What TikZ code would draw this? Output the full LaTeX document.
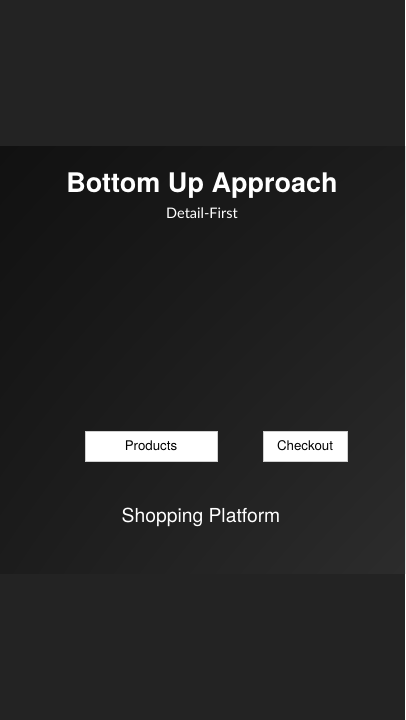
\documentclass[tikz,border=0pt]{standalone}
\usepackage{fontspec}
\setmainfont{TeX Gyre Heros}
\newfontfamily\latofont{Lato}
\usepackage{xcolor}
\usepackage{tikz}
\usetikzlibrary{positioning, shadings}
\definecolor{bandgray}{HTML}{232323}
\definecolor{paneldark}{HTML}{111111}
\definecolor{panellight}{HTML}{2C2C2C}
\definecolor{panelmid}{HTML}{1C1C1C}
\definecolor{boxline}{HTML}{D0D0D0}
\tikzset{
	x=1pt,
	y=-1pt,
	headline/.style={text=white, font=\bfseries\fontsize{27}{30}\selectfont, inner sep=0pt},
	tagline/.style={text=white, font=\latofont\fontsize{14.5}{17}\selectfont, inner sep=0pt},
	feature/.style={draw=boxline, fill=white, text=black, line width=0.6pt,
		font=\fontsize{13.3}{15}\selectfont, minimum height=30pt, inner sep=0pt},
	base/.style={text=white, font=\fontsize{19.3}{22}\selectfont, inner sep=0pt}
}

\begin{document}
\begin{tikzpicture}
	\useasboundingbox (0,0) rectangle (405,720);
	\fill[bandgray] (0,0) rectangle (405,720);
	\shade[upper left=paneldark, lower right=panellight, upper right=panelmid, lower left=panelmid]
		(0,146) rectangle (405,573);
	\node[headline] (title) at (202,186) {Bottom Up Approach};
	\node[tagline] (subtitle) at (202,213) {Detail-First};
	\node[feature, minimum width=132pt] (products) at (151,446) {Products};
	\node[feature, minimum width=84pt] (checkout) at (305,446) {Checkout};
	\node[base] (platform) at (201,517) {Shopping Platform};
\end{tikzpicture}
\end{document}
